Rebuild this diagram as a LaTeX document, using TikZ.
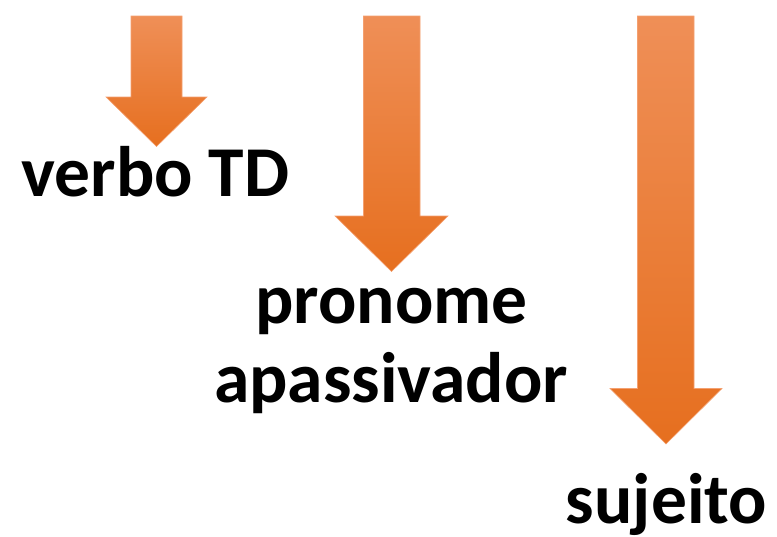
\documentclass[tikz,border=0pt]{standalone}
\usepackage{fontspec}
\setmainfont{Carlito}
\begin{document}
\begin{tikzpicture}[x=1pt,y=-1pt,
  arrowshape/.style={top color=arrtop, middle color=arrmid, bottom color=arrbot, draw=arredge, line width=0.6pt},
  lbl/.style={font=\bfseries\fontsize{71.5}{78}\selectfont, inner sep=0pt, anchor=base, text=black}]
\definecolor{arrtop}{HTML}{EF8F57}
\definecolor{arrmid}{HTML}{F2812E}
\definecolor{arrbot}{HTML}{E66F1F}
\definecolor{arredge}{HTML}{F4A070}
\useasboundingbox (0,0) rectangle (777,536);
% arrow 1
\path[arrowshape] (131,16) -- (182,16) -- (182,97) -- (207,97) -- (156.5,146.5) -- (106,97) -- (131,97) -- cycle;
% arrow 2
\path[arrowshape] (363.5,16) -- (420,16) -- (420,216) -- (448,216) -- (391.5,271.5) -- (335,216) -- (363.5,216) -- cycle;
% arrow 3
\path[arrowshape] (637.5,16) -- (694,16) -- (694,388.5) -- (722,388.5) -- (666,444) -- (610,388.5) -- (637.5,388.5) -- cycle;
\node[lbl] (verbo) at (155.5,196) {verbo TD};
\node[lbl] (pron) at (391.5,323) {pronome};
\node[lbl] (apass) at (391,402) {apassivador};
\node[lbl] (suj) at (666.5,523) {sujeito};
\end{tikzpicture}
\end{document}
